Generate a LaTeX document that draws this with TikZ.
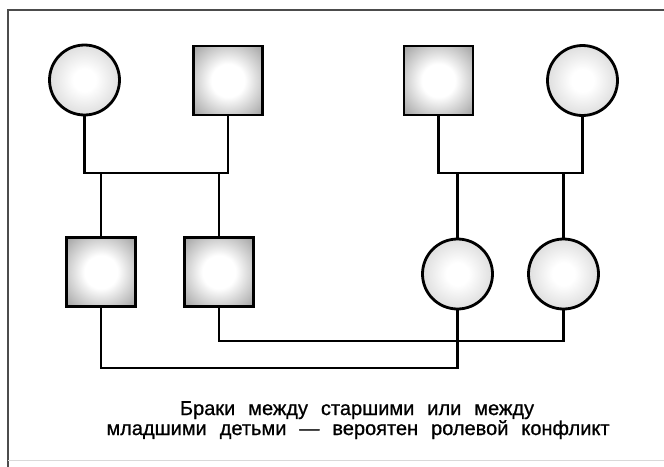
\documentclass[tikz,border=0pt]{standalone}
\usepackage{fontspec}
\setmainfont[FakeBold=0.8]{Liberation Sans}
\pgfdeclareradialshading{sqshade}{\pgfpoint{0bp}{0bp}}{color(0bp)=(white); color(12bp)=(white); color(36bp)=(black!38); color(50bp)=(black!58); color(72bp)=(black!62)}
\pgfdeclareradialshading{cishade}{\pgfpoint{0bp}{0bp}}{color(0bp)=(white); color(8bp)=(white); color(32bp)=(black!18); color(50bp)=(black!32); color(72bp)=(black!34)}
\begin{document}
\begin{tikzpicture}[x=1pt,y=-1pt,
  female/.style={circle,draw=black,line width=2.8pt,minimum size=70pt,inner sep=0pt,
    shading=cishade},
  male/.style={rectangle,draw=black,line width=2.8pt,minimum size=69pt,inner sep=0pt,
    shading=sqshade},
  link/.style={draw=black,line width=2.3pt},
  frameline/.style={draw=black!70,line width=1.8pt},
  caption/.style={font=\fontsize{20}{22}\selectfont,anchor=base,inner sep=0pt}]
\useasboundingbox (0,0) rectangle (664,466);
\fill[white] (0,0) rectangle (664,466);
% frame
\draw[frameline] (670,10) -- (8,10) -- (8,470);
\draw[draw=black!15,line width=1pt] (8,460) -- (670,460);
% parents
\node[female] (c1) at (84.5,80) {};
\node[male]   (s1) at (228,80.5) {};
\node[male]   (s2) at (438.5,80.5) {};
\node[female] (c2) at (582.5,80.5) {};
% children
\node[male]   (s3) at (101,272) {};
\node[male]   (s4) at (219,272) {};
\node[female] (c3) at (457.5,274) {};
\node[female] (c4) at (563.5,274) {};
% marriage lines
\coordinate (j1) at (0,173);
\coordinate (j2) at (0,341);
\coordinate (j3) at (0,368);
\draw[link] (c1.south) |- (s1.south |- j1) -- (s1.south);
\draw[link] (s2.south) |- (c2.south |- j1) -- (c2.south);
\draw[link] (s3.north) -- (s3.north |- j1);
\draw[link] (s4.north) -- (s4.north |- j1);
\draw[link] (c3.north) -- (c3.north |- j1);
\draw[link] (c4.north) -- (c4.north |- j1);
\draw[link] (s4.south) |- (c4.south |- j2) -- (c4.south);
\draw[link] (s3.south) |- (c3.south |- j3) -- (c3.south);
% caption
\node[caption] (t1) at (357,415) {\spaceskip=13pt\relax Браки между старшими или между};
\node[caption] (t2) at (358,435) {\spaceskip=13pt\relax младшими детьми — вероятен ролевой конфликт};
\end{tikzpicture}
\end{document}
